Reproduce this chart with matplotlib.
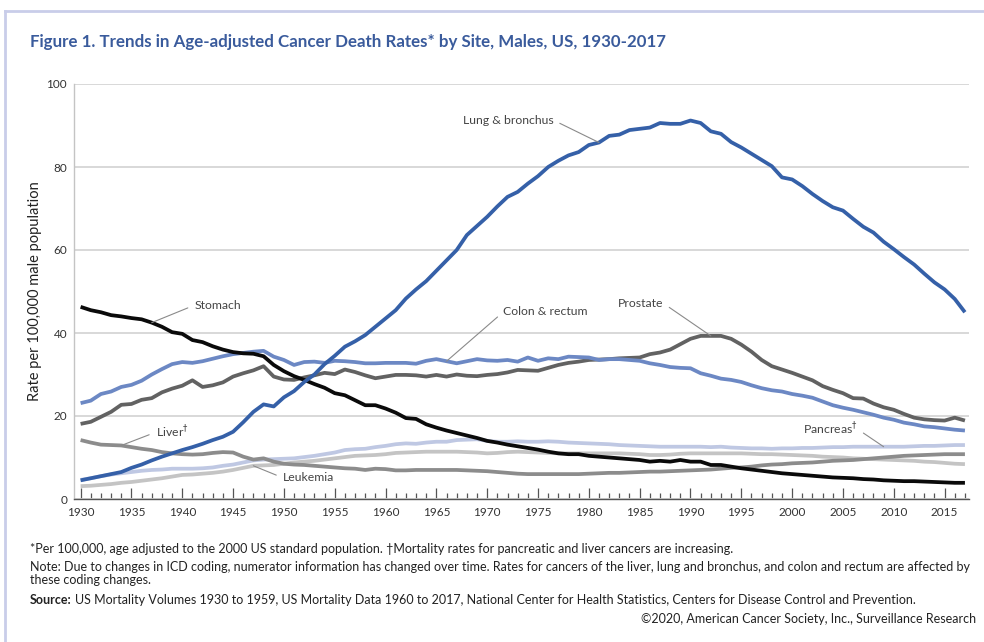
import matplotlib
matplotlib.use("Agg")
import matplotlib.pyplot as plt
from matplotlib.lines import Line2D
from matplotlib.ticker import MultipleLocator

years = list(range(1930, 2018))

lung = [4.5, 5.0, 5.5, 6.0, 6.5, 7.5, 8.3, 9.3, 10.2, 11.0,
        11.8, 12.5, 13.3, 14.2, 15.0, 16.2, 18.5, 21.0, 22.8, 22.3,
        24.5, 26.0, 28.2, 30.0, 32.5, 34.5, 36.7, 38.0, 39.5, 41.5,
        43.5, 45.5, 48.3, 50.5, 52.5, 55.0, 57.5, 60.0, 63.6, 65.8,
        68.0, 70.5, 72.8, 74.0, 76.0, 77.8, 80.0, 81.5, 82.8, 83.6,
        85.3, 85.9, 87.5, 87.8, 88.9, 89.2, 89.5, 90.6, 90.4, 90.4,
        91.2, 90.6, 88.6, 88.0, 86.0, 84.7, 83.2, 81.7, 80.2, 77.5,
        77.0, 75.4, 73.5, 71.8, 70.3, 69.5, 67.5, 65.6, 64.2, 62.0,
        60.2, 58.3, 56.5, 54.3, 52.2, 50.5, 48.2, 45.0]

stomach = [46.3, 45.5, 45.0, 44.3, 44.0, 43.6, 43.3, 42.5, 41.5, 40.2,
           39.8, 38.3, 37.8, 36.8, 36.0, 35.4, 35.1, 35.0, 34.4, 32.3,
           30.8, 29.6, 28.7, 27.7, 26.8, 25.5, 25.0, 23.8, 22.6, 22.6,
           21.8, 20.8, 19.5, 19.3, 18.0, 17.2, 16.5, 15.9, 15.3, 14.7,
           14.0, 13.6, 13.1, 12.7, 12.3, 11.9, 11.4, 11.0, 10.8, 10.8,
           10.4, 10.2, 10.0, 9.8, 9.6, 9.4, 9.0, 9.2, 9.0, 9.4,
           9.0, 9.0, 8.2, 8.2, 7.8, 7.4, 7.1, 6.8, 6.5, 6.2,
           6.0, 5.8, 5.6, 5.4, 5.2, 5.1, 5.0, 4.8, 4.7, 4.5,
           4.4, 4.3, 4.3, 4.2, 4.1, 4.0, 3.9, 3.9]

colon = [23.1, 23.7, 25.3, 25.9, 27.0, 27.5, 28.5, 30.0, 31.3, 32.5,
         33.0, 32.8, 33.2, 33.8, 34.4, 34.9, 35.2, 35.5, 35.7, 34.3,
         33.5, 32.3, 33.0, 33.1, 32.8, 33.3, 33.2, 33.0, 32.7, 32.7,
         32.8, 32.8, 32.8, 32.6, 33.3, 33.7, 33.2, 32.7, 33.2, 33.7,
         33.4, 33.3, 33.5, 33.1, 34.1, 33.3, 33.9, 33.7, 34.3, 34.2,
         34.1, 33.5, 33.7, 33.7, 33.5, 33.3, 32.7, 32.3, 31.8, 31.6,
         31.5, 30.3, 29.7, 29.0, 28.7, 28.2, 27.4, 26.7, 26.2, 25.9,
         25.3, 24.9, 24.4, 23.5, 22.6, 22.0, 21.5, 20.9, 20.3, 19.6,
         19.1, 18.4, 18.0, 17.5, 17.3, 17.0, 16.7, 16.5]

prostate = [18.1, 18.6, 19.8, 21.0, 22.7, 22.9, 23.9, 24.3, 25.7, 26.6,
            27.3, 28.6, 27.0, 27.4, 28.1, 29.5, 30.3, 31.0, 32.0, 29.5,
            28.8, 28.7, 29.3, 29.8, 30.4, 30.1, 31.2, 30.6, 29.8, 29.1,
            29.5, 29.9, 29.9, 29.8, 29.5, 29.9, 29.5, 30.0, 29.7, 29.6,
            29.9, 30.1, 30.5, 31.1, 31.0, 30.9, 31.6, 32.3, 32.8, 33.1,
            33.5, 33.6, 33.7, 33.9, 34.0, 34.1, 34.9, 35.3, 36.0, 37.3,
            38.6, 39.3, 39.3, 39.3, 38.6, 37.2, 35.5, 33.5, 32.0, 31.2,
            30.4, 29.5, 28.6, 27.2, 26.3, 25.5, 24.3, 24.2, 23.0, 22.1,
            21.5, 20.5, 19.6, 19.2, 19.0, 18.9, 19.6, 18.9]

liver = [14.2, 13.6, 13.1, 13.0, 12.9, 12.5, 12.1, 11.8, 11.3, 11.0,
         10.8, 10.7, 10.8, 11.1, 11.3, 11.2, 10.2, 9.5, 9.8, 9.0,
         8.5, 8.3, 8.2, 8.0, 7.8, 7.6, 7.4, 7.3, 7.0, 7.3,
         7.2, 6.9, 6.9, 7.0, 7.0, 7.0, 7.0, 7.0, 6.9, 6.8,
         6.7, 6.5, 6.3, 6.1, 6.0, 6.0, 6.0, 6.0, 6.0, 6.0,
         6.1, 6.2, 6.3, 6.3, 6.4, 6.5, 6.6, 6.6, 6.7, 6.8,
         6.9, 7.0, 7.1, 7.3, 7.5, 7.6, 7.8, 8.1, 8.3, 8.4,
         8.6, 8.7, 8.8, 9.0, 9.2, 9.3, 9.4, 9.6, 9.8, 10.0,
         10.2, 10.4, 10.5, 10.6, 10.7, 10.8, 10.8, 10.8]

pancreas = [4.6, 5.0, 5.5, 5.9, 6.2, 6.5, 6.8, 7.0, 7.1, 7.3,
            7.3, 7.3, 7.4, 7.6, 8.0, 8.3, 8.8, 9.3, 9.5, 9.6,
            9.7, 9.8, 10.1, 10.4, 10.8, 11.2, 11.8, 12.0, 12.1, 12.5,
            12.8, 13.2, 13.4, 13.3, 13.6, 13.8, 13.8, 14.2, 14.3, 14.4,
            14.0, 13.8, 13.8, 13.9, 13.8, 13.8, 13.9, 13.8, 13.6, 13.5,
            13.4, 13.3, 13.2, 13.0, 12.9, 12.8, 12.7, 12.6, 12.6, 12.6,
            12.6, 12.6, 12.5, 12.6, 12.4, 12.3, 12.2, 12.2, 12.1, 12.2,
            12.2, 12.3, 12.3, 12.4, 12.5, 12.5, 12.6, 12.6, 12.6, 12.6,
            12.6, 12.6, 12.7, 12.8, 12.8, 12.9, 13.0, 13.0]

leukemia = [3.1, 3.2, 3.4, 3.6, 3.9, 4.1, 4.4, 4.7, 5.0, 5.4,
            5.8, 5.9, 6.1, 6.3, 6.6, 7.0, 7.5, 8.0, 8.1, 8.2,
            8.5, 8.8, 9.0, 9.2, 9.5, 9.8, 10.1, 10.4, 10.5, 10.6,
            10.8, 11.1, 11.2, 11.3, 11.4, 11.4, 11.4, 11.4, 11.3, 11.2,
            11.0, 11.1, 11.3, 11.4, 11.3, 11.2, 11.1, 11.0, 11.0, 11.0,
            11.0, 11.0, 11.0, 11.0, 10.9, 10.8, 10.6, 10.6, 10.7, 10.9,
            11.0, 11.0, 11.0, 11.0, 11.0, 11.0, 10.9, 10.8, 10.8, 10.7,
            10.6, 10.5, 10.4, 10.2, 10.1, 10.0, 9.8, 9.7, 9.6, 9.5,
            9.4, 9.3, 9.2, 9.0, 8.9, 8.7, 8.5, 8.4]

y_ticks = [0, 20, 40, 60, 80, 100]
x_ticks = list(range(1930, 2016, 5))

series = [
    ("Leukemia", leukemia, "#c4c4c4"),
    ("Pancreas", pancreas, "#bfc8e3"),
    ("Liver", liver, "#8c8c8c"),
    ("Prostate", prostate, "#626262"),
    ("Colon & rectum", colon, "#6c88c4"),
    ("Stomach", stomach, "#0a0a0a"),
    ("Lung & bronchus", lung, "#3560a8"),
]

label_font = ["Lato", "DejaVu Sans"]
narrow_font = ["Lato", "DejaVu Sans"]

fig = plt.figure(figsize=(9.84, 6.42), dpi=100)
W, H = 984, 642
ax = fig.add_axes([74 / W, 1 - 499 / H, (969 - 74) / W, (499 - 84) / H])

for name, vals, col in series:
    ax.plot(years, vals, color=col, lw=2.7, solid_joinstyle="round",
            solid_capstyle="butt", zorder=3)

ax.set_xlim(1929.35, 2017.4)
ax.set_ylim(0, 100)
ax.set_yticks(y_ticks)
ax.set_xticks(x_ticks)
ax.xaxis.set_minor_locator(MultipleLocator(1))
ax.yaxis.grid(True, color="#d6d6d6", lw=1.3)
ax.set_axisbelow(True)
for s in ["top", "right"]:
    ax.spines[s].set_visible(False)
ax.spines["left"].set_color("#c4c4c4")
ax.spines["left"].set_linewidth(1.0)
ax.spines["bottom"].set_color("#555555")
ax.spines["bottom"].set_linewidth(1.0)
ax.tick_params(axis="y", length=0, pad=5, labelsize=8.5, labelcolor="#333333")
ax.tick_params(axis="x", which="major", direction="in", length=8, width=0.9,
               color="#555555", pad=6, labelsize=8.5, labelcolor="#333333")
ax.tick_params(axis="x", which="minor", direction="in", length=4.5, width=0.9,
               color="#555555")
for lab in ax.get_xticklabels() + ax.get_yticklabels():
    lab.set_family(label_font)

ax.set_ylabel("Rate per 100,000 male population", family=label_font,
              fontsize=10.5, color="#222222", labelpad=3)

def yr(y, vals):
    return vals[years.index(y)]

ann_kw = dict(fontsize=8.8, color="#444444", family=label_font, va="center")
def leader(relx):
    return dict(arrowstyle="-", color="#8a8a8a", lw=0.8, shrinkA=3, shrinkB=0,
                relpos=(relx, 0.5))

ax.annotate("Lung & bronchus", xy=(1981, yr(1981, lung)), xytext=(1976.5, 91.3),
            ha="right", arrowprops=leader(1), **ann_kw)
ax.annotate("Stomach", xy=(1937, yr(1937, stomach)), xytext=(1941.2, 46.7),
            ha="left", arrowprops=leader(0), **ann_kw)
ax.annotate("Colon & rectum", xy=(1966, yr(1966, colon)), xytext=(1971.6, 45.1),
            ha="left", arrowprops=leader(0), **ann_kw)
ax.annotate("Prostate", xy=(1992, yr(1992, prostate)), xytext=(1987.3, 47.2),
            ha="right", arrowprops=leader(1), **ann_kw)
ax.annotate("Liver$^{\\dagger}$", xy=(1934, yr(1934, liver)), xytext=(1937.4, 16.1),
            ha="left", arrowprops=leader(0), **ann_kw)
ax.annotate("Leukemia", xy=(1947, yr(1947, leukemia)), xytext=(1949.9, 5.1),
            ha="left", arrowprops=leader(0), **ann_kw)
ax.annotate("Pancreas$^{\\dagger}$", xy=(2009, yr(2009, pancreas)), xytext=(2006.4, 16.9),
            ha="right", arrowprops=leader(1), **ann_kw)

# Title
fig.text(30 / W, 1 - 42 / H,
         "Figure 1. Trends in Age-adjusted Cancer Death Rates* by Site, Males, US, 1930-2017",
         family=narrow_font, fontweight="bold", fontsize=12.2, color="#3a5b9c",
         ha="left", va="center")

# Footnotes
fn_kw = dict(family=narrow_font, fontsize=9.0, color="#222222", ha="left", va="center")
fig.text(30 / W, 1 - 549 / H,
         "*Per 100,000, age adjusted to the 2000 US standard population. "
         "\u2020Mortality rates for pancreatic and liver cancers are increasing.", **fn_kw)
fig.text(30 / W, 1 - 567 / H,
         "Note: Due to changes in ICD coding, numerator information has changed over time. "
         "Rates for cancers of the liver, lung and bronchus, and colon and rectum are affected by",
         **fn_kw)
fig.text(30 / W, 1 - 580 / H, "these coding changes.", **fn_kw)
src = fig.text(30 / W, 1 - 600 / H, "Source:", fontweight="bold", **fn_kw)
fig.canvas.draw()
bb = src.get_window_extent()
fig.text((bb.x1 + 3) / W, 1 - 600 / H,
         "US Mortality Volumes 1930 to 1959, US Mortality Data 1960 to 2017, National Center "
         "for Health Statistics, Centers for Disease Control and Prevention.", **fn_kw)
fn_r = dict(fn_kw)
fn_r["ha"] = "right"
fig.text(976 / W, 1 - 619 / H,
         "\u00a92020, American Cancer Society, Inc., Surveillance Research", **fn_r)

# Border frame
bcol = "#c9cde9"
fig.add_artist(Line2D([5 / W, 1.0], [1 - 11 / H, 1 - 11 / H], color=bcol, lw=2,
                      transform=fig.transFigure))
fig.add_artist(Line2D([5 / W, 5 / W], [0, 1 - 11 / H], color=bcol, lw=2,
                      transform=fig.transFigure))

fig.savefig("out.png", dpi=100)
